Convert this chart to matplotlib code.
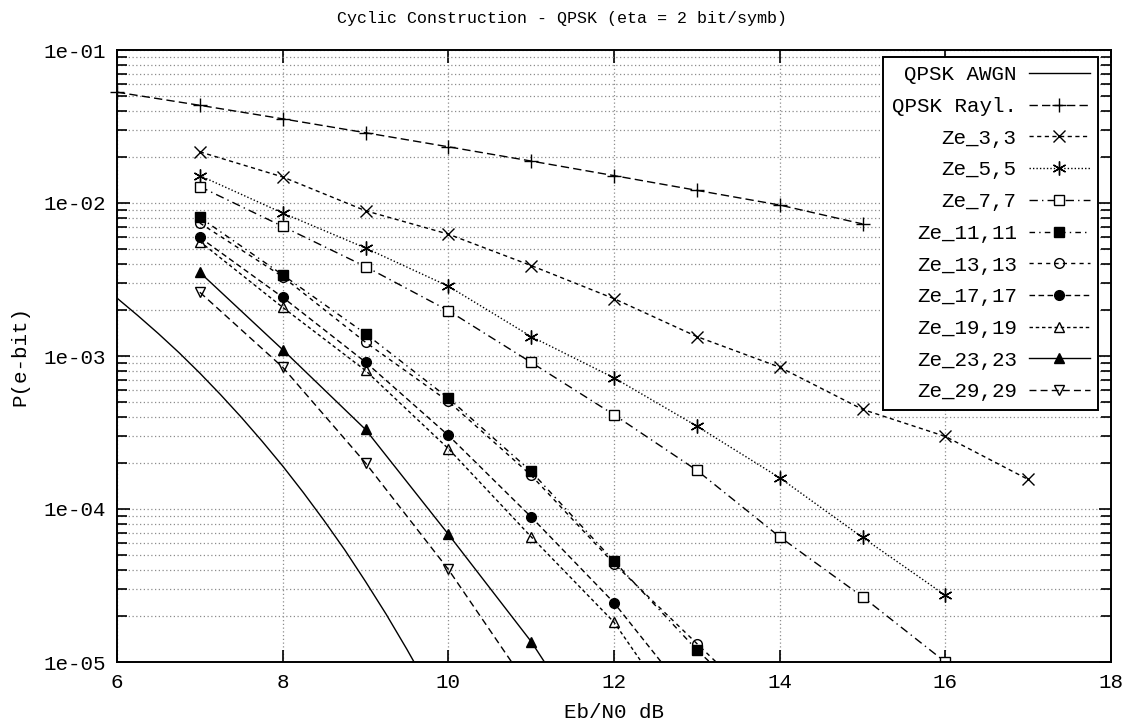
import numpy as np
import matplotlib
matplotlib.use("Agg")
import matplotlib.pyplot as plt
from matplotlib.ticker import LogLocator, FuncFormatter, MultipleLocator, NullFormatter

# values
awgn_snr = [6.0, 6.25, 6.5, 6.75, 7.0, 7.25, 7.5, 7.75, 8.0, 8.25, 8.5, 8.75, 9.0, 9.25, 9.5, 9.75]
awgn_ber = [2.39e-3, 1.84e-3, 1.40e-3, 1.05e-3, 7.73e-4, 5.59e-4, 3.98e-4, 2.78e-4, 1.91e-4,
            1.28e-4, 8.4e-5, 5.4e-5, 3.36e-5, 2.05e-5, 1.21e-5, 6.96e-6]

rayl_snr = [6, 7, 8, 9, 10, 11, 12, 13, 14, 15]
rayl_ber = [5.3e-2, 4.35e-2, 3.55e-2, 2.88e-2, 2.33e-2, 1.88e-2, 1.51e-2, 1.21e-2, 9.7e-3, 7.3e-3]

ze3_snr = [7, 8, 9, 10, 11, 12, 13, 14, 15, 16, 17]
ze3_ber = [2.16e-2, 1.48e-2, 8.9e-3, 6.26e-3, 3.9e-3, 2.37e-3, 1.34e-3, 8.45e-4, 4.48e-4, 2.98e-4, 1.56e-4]

ze5_snr = [7, 8, 9, 10, 11, 12, 13, 14, 15, 16]
ze5_ber = [1.51e-2, 8.6e-3, 5.08e-3, 2.86e-3, 1.34e-3, 7.2e-4, 3.48e-4, 1.6e-4, 6.52e-5, 2.73e-5]

ze7_snr = [7, 8, 9, 10, 11, 12, 13, 14, 15, 16]
ze7_ber = [1.28e-2, 7.03e-3, 3.84e-3, 1.98e-3, 9.08e-4, 4.13e-4, 1.79e-4, 6.58e-5, 2.67e-5, 1.0e-5]

ze11_snr = [7, 8, 9, 10, 11, 12, 13, 14]
ze11_ber = [8.05e-3, 3.39e-3, 1.40e-3, 5.31e-4, 1.76e-4, 4.56e-5, 1.2e-5, 3.7e-6]

ze13_snr = [7, 8, 9, 10, 11, 12, 13, 14]
ze13_ber = [7.4e-3, 3.3e-3, 1.23e-3, 5.05e-4, 1.66e-4, 4.4e-5, 1.32e-5, 4.0e-6]

ze17_snr = [7, 8, 9, 10, 11, 12, 13]
ze17_ber = [5.96e-3, 2.42e-3, 9.12e-4, 3.03e-4, 8.87e-5, 2.44e-5, 5.1e-6]

ze19_snr = [7, 8, 9, 10, 11, 12, 13]
ze19_ber = [5.6e-3, 2.08e-3, 8.04e-4, 2.48e-4, 6.58e-5, 1.82e-5, 3.0e-6]

ze23_snr = [7, 8, 9, 10, 11, 12]
ze23_ber = [3.52e-3, 1.10e-3, 3.31e-4, 6.84e-5, 1.36e-5, 2.0e-6]

ze29_snr = [7, 8, 9, 10, 11]
ze29_ber = [2.61e-3, 8.45e-4, 2.0e-4, 4.03e-5, 6.5e-6]

title = "Cyclic Construction - QPSK (eta = 2 bit/symb)"
mono = "Liberation Mono"

fig = plt.figure(figsize=(11.24, 7.26), dpi=100)
ax = fig.add_axes([117 / 1124, 1 - 662 / 726, (1111 - 117) / 1124, (662 - 50) / 726])

ink = "black"
common = dict(color=ink, linewidth=1.0, markersize=7, markeredgewidth=1.0, clip_on=True)

ax.plot(awgn_snr, awgn_ber, linestyle="-", label="QPSK AWGN", **common)
ax.plot(rayl_snr, rayl_ber, linestyle=(0, (6, 3)), marker="+", markersize=10,
        color=ink, linewidth=1.0, markeredgewidth=1.0, clip_on=False, label="QPSK Rayl.")
ax.plot(ze3_snr, ze3_ber, linestyle=(0, (3, 2.5)), marker="x", markersize=8,
        color=ink, linewidth=1.0, markeredgewidth=1.0, label="Ze_3,3")
ax.plot(ze5_snr, ze5_ber, linestyle=(0, (1, 1.5)), marker=(6, 2, 0), markersize=10,
        color=ink, linewidth=1.0, markeredgewidth=1.0, label="Ze_5,5")
ax.plot(ze7_snr, ze7_ber, linestyle=(0, (6, 3, 1, 3)), marker="s", mfc="white", label="Ze_7,7", **common)
ax.plot(ze11_snr, ze11_ber, linestyle=(0, (4, 3, 1, 3)), marker="s", mfc=ink, label="Ze_11,11", **common)
ax.plot(ze13_snr, ze13_ber, linestyle=(0, (3, 3)), marker="o", mfc="none", label="Ze_13,13", **common)
ax.plot(ze17_snr, ze17_ber, linestyle=(0, (4, 2.5)), marker="o", mfc=ink, label="Ze_17,17", **common)
ax.plot(ze19_snr, ze19_ber, linestyle=(0, (2.5, 2)), marker="^", mfc="none", label="Ze_19,19", **common)
ax.plot(ze23_snr, ze23_ber, linestyle="-", marker="^", mfc=ink, label="Ze_23,23", **common)
ax.plot(ze29_snr, ze29_ber, linestyle=(0, (5, 3)), marker="v", mfc="none", label="Ze_29,29", **common)

ax.set_yscale("log")
ax.set_xlim(6, 18)
ax.set_ylim(1e-5, 1e-1)

ax.xaxis.set_major_locator(MultipleLocator(2))
ax.yaxis.set_major_locator(LogLocator(base=10, numticks=10))
ax.yaxis.set_minor_locator(LogLocator(base=10, subs=np.arange(2, 10), numticks=20))
ax.yaxis.set_major_formatter(FuncFormatter(lambda v, p: f"{v:.0e}"))
ax.yaxis.set_minor_formatter(NullFormatter())

grid_style = dict(color="#8c8c8c", linestyle=(0, (1, 2)), linewidth=0.9)
ax.grid(True, which="major", axis="both", **grid_style)
ax.grid(True, which="minor", axis="y", **grid_style)
ax.set_axisbelow(True)

ax.tick_params(which="both", direction="in", top=True, right=True, width=1.2)
ax.tick_params(which="major", length=9, pad=8)
ax.tick_params(which="minor", length=7)
for sp in ax.spines.values():
    sp.set_linewidth(1.4)

for lab in ax.get_xticklabels() + ax.get_yticklabels():
    lab.set_fontfamily(mono)
    lab.set_fontsize(15)

ax.set_xlabel("Eb/N0 dB", fontfamily=mono, fontsize=15, labelpad=8)
ax.set_ylabel("P(e-bit)", fontfamily=mono, fontsize=15, labelpad=10)
fig.text(0.5, 1 - 18 / 726, title, ha="center", va="center", fontfamily=mono, fontsize=12)

leg = ax.legend(loc="upper right", bbox_to_anchor=(1098 / 1124, 1 - 57 / 726),
                bbox_transform=fig.transFigure, borderaxespad=0, markerfirst=False,
                prop={"family": mono, "size": 15}, handlelength=2.9, handletextpad=0.6,
                labelspacing=0.61, borderpad=0.4, fancybox=False, framealpha=1.0,
                edgecolor="black")
leg.get_frame().set_linewidth(1.4)

fig.savefig("out.png", dpi=100)
